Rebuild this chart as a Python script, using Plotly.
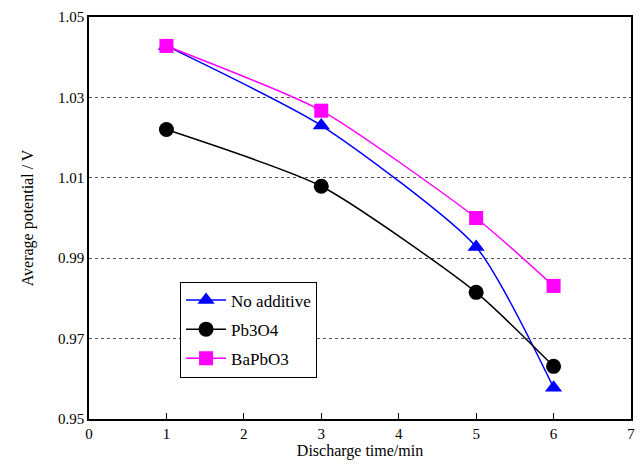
import plotly.graph_objects as go

time_min = [1, 3, 5, 6]
no_additive = [1.0428, 1.0230, 0.9928, 0.9578]
pb3o4 = [1.0220, 1.0079, 0.9815, 0.9631]
bapbo3 = [1.0428, 1.0267, 1.0000, 0.9831]

series = [
    ("No additive", no_additive, "#0000ff", "triangle-up", 15),
    ("Pb3O4", pb3o4, "#000000", "circle", 15),
    ("BaPbO3", bapbo3, "#ff00ff", "square", 14),
]

font_family = "Times New Roman, Liberation Serif, DejaVu Serif, serif"

fig = go.Figure()
for i, (name, vals, color, sym, size) in enumerate(series):
    fig.add_trace(go.Scatter(
        x=time_min, y=vals, name=name, mode="lines+markers",
        line=dict(color=color, width=1.5, shape="spline", smoothing=0.6),
        marker=dict(symbol=sym, size=size, color=color),
        legendgroup=f"g{i}",
    ))

fig.update_layout(
    width=644, height=469,
    margin=dict(l=89, r=9, t=15, b=50),
    paper_bgcolor="white", plot_bgcolor="white",
    font=dict(family=font_family, size=15, color="black"),
    showlegend=True,
    legend=dict(
        x=0.168, y=0.342, xanchor="left", yanchor="top",
        bgcolor="white", bordercolor="black", borderwidth=1,
        font=dict(size=17, family=font_family),
        tracegroupgap=4, traceorder="grouped",
        itemwidth=40,
    ),
    xaxis=dict(
        range=[0, 7], dtick=1, tick0=0,
        showline=True, linecolor="black", linewidth=1.5, mirror=True,
        ticks="inside", ticklen=6, tickcolor="black", tickwidth=1,
        showgrid=False, zeroline=False,
        title=dict(text="Discharge time/min", font=dict(size=16, family=font_family), standoff=4),
        tickfont=dict(size=15, family=font_family),
    ),
    yaxis=dict(
        range=[0.95, 1.05], dtick=0.02, tick0=0.95, tickformat=".2f",
        showline=True, linecolor="black", linewidth=1.5, mirror=True,
        ticks="", showgrid=True, gridcolor="#555555", gridwidth=1, griddash="dot",
        zeroline=False,
        title=dict(text="Average potential / V", font=dict(size=16, family=font_family), standoff=20),
        tickfont=dict(size=15, family=font_family),
    ),
)

fig.write_html("out.html")
